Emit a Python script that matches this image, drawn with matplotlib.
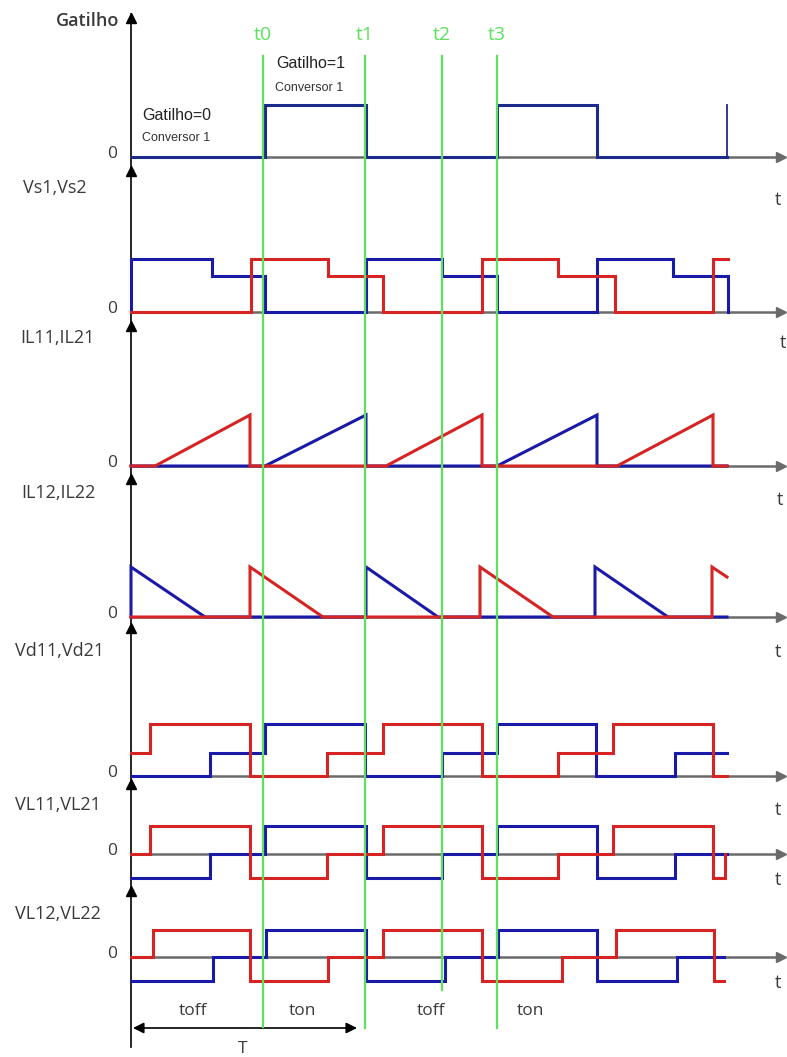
import matplotlib
matplotlib.use("Agg")
import matplotlib.pyplot as plt

# ---------------- data (time in units from the vertical axis origin) ----------------
panel_names = ["Gatilho", "Vs1,Vs2", "IL11,IL21", "IL12,IL22", "Vd11,Vd21", "VL11,VL21", "VL12,VL22"]

# Gatilho (converter 1)
gate_t = [0, 134, 235, 366, 466, 596]
gate_v = [0, 1, 0, 1, 0, 0]
gate_spike_t = 596

# Vs1 (blue), Vs2 (red)  levels: 1 = high, 0.68 = mid
vs1_t = [0, 0, 81, 134, 235, 311, 366, 466, 542, 597, 597]
vs1_v = [0, 1, 0.68, 0, 1, 0.68, 0, 1, 0.68, 0.68, 0]
vs2_t = [0, 120, 197, 252, 351, 427, 484, 582, 597]
vs2_v = [0, 1, 0.68, 0, 1, 0.68, 0, 1, 1]

# IL11 (blue), IL21 (red)  ramps
il11_t = [0, 134, 235, 235, 366, 466, 466, 596]
il11_v = [0, 0, 1, 0, 0, 1, 0, 0]
il21_t = [0, 24, 119, 119, 255, 351, 351, 486, 582, 582, 596]
il21_v = [0, 0, 1, 0, 0, 1, 0, 0, 1, 0, 0]

# IL12 (blue), IL22 (red)
il12_t = [0, 0, 74, 235, 235, 307, 464, 464, 537, 596]
il12_v = [0, 1, 0, 0, 1, 0, 0, 1, 0, 0]
il22_t = [0, 119, 119, 192, 349, 349, 422, 581, 581, 596]
il22_v = [0, 0, 1, 0, 0, 1, 0, 0, 1, 0.8]

# Vd11 (blue), Vd21 (red)  levels: 1 = high, 0.45 = mid
vd11_t = [0, 79, 134, 234, 311, 366, 465, 544, 596]
vd11_v = [0, 0.45, 1, 0, 0.45, 1, 0, 0.45, 0.45]
vd21_t = [0, 19, 119, 196, 252, 351, 427, 482, 582, 596]
vd21_v = [0.45, 1, 0, 0.45, 1, 0, 0.45, 1, 0, 0]

# VL11 (blue), VL21 (red)  levels: 1 = high, -0.86 = low
vl11_t = [0, 79, 134, 235, 311, 366, 466, 544, 596]
vl11_v = [-0.86, 0, 1, -0.86, 0, 1, -0.86, 0, 0]
vl21_t = [0, 19, 119, 196, 252, 351, 427, 482, 582, 594]
vl21_v = [0, 1, -0.86, 0, 1, -0.86, 0, 1, -0.86, 0]

# VL12 (blue), VL22 (red)
vl12_t = [0, 82, 135, 235, 314, 367, 466, 546, 593]
vl12_v = [-0.89, 0, 1, -0.89, 0, 1, -0.89, 0, 0]
vl22_t = [0, 22, 119, 197, 252, 351, 431, 485, 583, 593]
vl22_v = [0, 1, -0.89, 0, 1, -0.89, 0, 1, -0.89, -0.89]

# marker instants
marker_names = ["t0", "t1", "t2", "t3"]
marker_t = [132, 234, 311, 366]
marker_end = [1027, 1028, 990, 1028]

interval_names = ["toff", "ton", "toff", "ton"]
interval_t = [62, 171, 300, 399]

# ---------------- layout ----------------
X0 = 131
W, H = 787, 1057
bases = [157, 312, 466, 617, 776, 854, 957]
amps = [52, 53, 51, 50, 52, 28, 27]
arrow_tops = [12, 165, 320, 473, 622, 778, 885]
label_xy = [(88, 21), (55, 188), (57, 338), (58, 493), (60, 651), (58, 805), (58, 914)]
t_label_y = [200, 343, 500, 652, 810, 880, 983]
t_label_x = [778, 783, 780, 778, 778, 778, 778]

BLUE = "#1a1aa8"
RED = "#d62424"
GREEN = "#5ee05e"
GRAY = "#6a6a6a"
TXT = "#3a3a3a"

fig = plt.figure(figsize=(W / 100, H / 100), dpi=100)
ax = fig.add_axes([0, 0, 1, 1])
ax.set_xlim(-X0, W - X0)
ax.set_ylim(H, 0)
ax.axis("off")

def ypix(i, vals):
    return [bases[i] - v * amps[i] for v in vals]

# horizontal axes (gray) with arrows
for i, b in enumerate(bases):
    ax.plot([0, 650], [b, b], color=GRAY, lw=1.8, zorder=1, solid_capstyle="butt")
    ax.plot([650], [b], marker=">", color=GRAY, ms=7, zorder=1)
    ax.text(t_label_x[i] - X0, t_label_y[i], "t", fontsize=13, color=TXT,
            ha="center", va="center", family="Open Sans")
    ax.text(-19, b - 3, "0", fontsize=12.5, color=TXT, ha="center", va="center",
            family="Open Sans")
    ax.text(label_xy[i][0] - X0, label_xy[i][1], panel_names[i], fontsize=13,
            color=TXT, ha="center", va="center", family="Open Sans",
            fontweight="semibold" if i == 0 else "normal")

# vertical axis line with arrowheads
ax.plot([0, 0], [1047, 14], color="black", lw=1.2, zorder=2)
for yt in arrow_tops:
    ax.plot([0], [yt + 6], marker="^", color="black", ms=7, zorder=6)

# green marker lines
for name, tt, ye in zip(marker_names, marker_t, marker_end):
    ax.plot([tt, tt], [56, ye], color=GREEN, lw=1.6, zorder=5)
    ax.text(tt, 35, name, fontsize=14, color=GREEN, ha="center", va="center",
            family="Open Sans")

# signals
kw = dict(lw=2.2, zorder=3, solid_joinstyle="miter")
ax.step(gate_t, ypix(0, gate_v), where="post", color="#1c2a8c", **kw)
ax.plot([gate_spike_t, gate_spike_t], ypix(0, [0, 1]), color="#1c2a8c", lw=1.3, zorder=3)

ax.step(vs1_t, ypix(1, vs1_v), where="post", color=BLUE, **kw)
ax.step(vs2_t, ypix(1, vs2_v), where="post", color=RED, **kw)

ax.plot(il11_t, ypix(2, il11_v), color=BLUE, **kw)
ax.plot(il21_t, ypix(2, il21_v), color=RED, **kw)

ax.plot(il12_t, ypix(3, il12_v), color=BLUE, **kw)
ax.plot(il22_t, ypix(3, il22_v), color=RED, **kw)

ax.step(vd11_t, ypix(4, vd11_v), where="post", color=BLUE, **kw)
ax.step(vd21_t, ypix(4, vd21_v), where="post", color=RED, **kw)

ax.step(vl11_t, ypix(5, vl11_v), where="post", color=BLUE, **kw)
ax.step(vl21_t, ypix(5, vl21_v), where="post", color=RED, **kw)

ax.step(vl12_t, ypix(6, vl12_v), where="post", color=BLUE, **kw)
ax.step(vl22_t, ypix(6, vl22_v), where="post", color=RED, **kw)

# Gatilho annotations
ax.text(276 - X0, 64, "Gatilho=1", fontsize=11.5, color="#222222", ha="left", va="center",
        family="Liberation Sans")
ax.text(275 - X0, 88, "Conversor 1", fontsize=9, color="#333333", ha="left", va="center",
        family="Liberation Sans")
ax.text(142 - X0, 116, "Gatilho=0", fontsize=11.5, color="#222222", ha="left", va="center",
        family="Liberation Sans")
ax.text(142 - X0, 138, "Conversor 1", fontsize=9, color="#333333", ha="left", va="center",
        family="Liberation Sans")

# toff / ton labels
for name, tt in zip(interval_names, interval_t):
    ax.text(tt, 1011, name, fontsize=12.5, color=TXT, ha="center", va="center",
            family="Open Sans")

# period arrow T
ax.annotate("", xy=(357 - X0, 1028), xytext=(2, 1028),
            arrowprops=dict(arrowstyle="<|-|>", color="black", lw=1.2,
                            mutation_scale=16, shrinkA=0, shrinkB=0))
ax.text(243 - X0, 1049, "T", fontsize=12.5, color=TXT, ha="center", va="center",
        family="Open Sans")

fig.savefig("out.png", dpi=100)
